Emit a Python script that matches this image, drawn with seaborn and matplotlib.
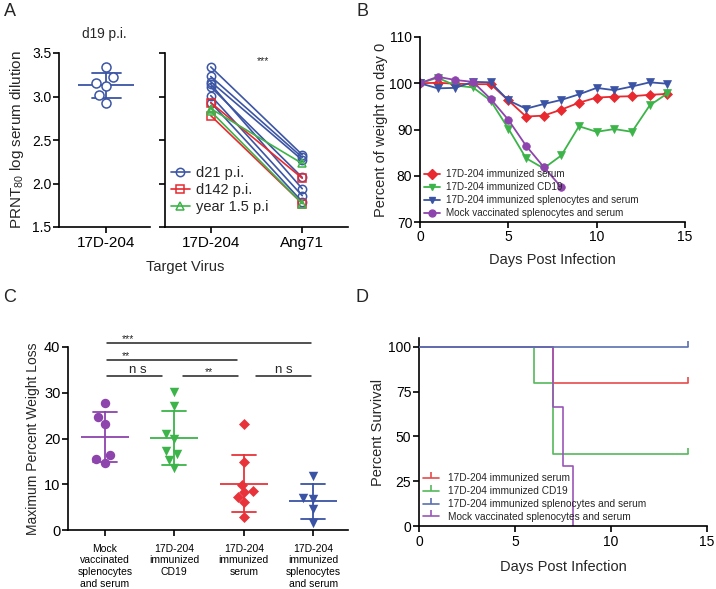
import numpy as np
import pandas as pd
import matplotlib
matplotlib.use('Agg')
import matplotlib.pyplot as plt
import seaborn as sns
from matplotlib.lines import Line2D

sns.set_theme(style='ticks')
plt.rcParams['font.family'] = ['Liberation Sans', 'DejaVu Sans']
plt.rcParams['mathtext.fontset'] = 'custom'
plt.rcParams['mathtext.rm'] = 'Liberation Sans'
plt.rcParams['axes.linewidth'] = 1.2
plt.rcParams['xtick.major.width'] = 1.2
plt.rcParams['ytick.major.width'] = 1.2
plt.rcParams['xtick.major.size'] = 4
plt.rcParams['ytick.major.size'] = 4
plt.rcParams['ytick.major.pad'] = 1.5
plt.rcParams['xtick.major.pad'] = 2.5
plt.rcParams['xtick.color'] = 'black'
plt.rcParams['ytick.color'] = 'black'
plt.rcParams['axes.edgecolor'] = 'black'
plt.rcParams['xtick.labelsize'] = 10
plt.rcParams['ytick.labelsize'] = 10

# ---------------- data ----------------
# Panel A (left): d19 p.i. PRNT80 titres
a_left_virus = '17D-204'
a_left_titers = [3.34, 3.22, 3.15, 3.12, 3.02, 2.93]

# Panel A (right): paired titres vs target virus
a_viruses = ['17D-204', 'Ang71']
a_groups = ['d21 p.i.', 'd142 p.i.', 'year 1.5 p.i']
d21_17d = [3.34, 3.23, 3.17, 3.14, 3.11, 3.01, 2.93]
d21_ang = [2.33, 2.30, 2.27, 1.94, 2.07, 1.86, 1.79]
d142_17d = [2.93, 2.78]
d142_ang = [2.06, 1.77]
y15_17d = [2.86, 2.83]
y15_ang = [2.23, 1.77]

# Panel B: weight curves
b_groups = ['17D-204 immunized serum', '17D-204 immunized CD19',
            '17D-204 immunized splenocytes and serum',
            'Mock vaccinated splenocytes and serum']
b_days = list(range(15))
b_serum = [100.0, 100.1, 99.9, 99.8, 99.8, 96.3, 92.8, 93.0, 94.3, 95.8, 96.9, 97.1, 97.2, 97.5, 97.7]
b_cd19 = [100.0, 101.2, 99.5, 99.1, 96.2, 90.2, 83.8, 81.6, 84.4, 90.7, 89.5, 90.1, 89.5, 95.2, 97.8]
b_spleno = [100.0, 98.9, 99.0, 100.3, 100.2, 96.3, 94.5, 95.5, 96.4, 97.6, 99.0, 98.5, 99.3, 100.2, 99.9]
b_mock_days = list(range(9))
b_mock = [100.0, 101.4, 100.7, 100.3, 96.6, 92.1, 86.5, 81.9, 77.5]

# Panel C: maximum percent weight loss
c_groups = ['Mock\nvaccinated\nsplenocytes\nand serum', '17D-204\nimmunized\nCD19',
            '17D-204\nimmunized\nserum', '17D-204\nimmunized\nsplenocytes\nand serum']
c_mock = [27.8, 24.6, 23.1, 16.4, 15.5, 14.7]
c_cd19 = [30.2, 27.1, 21.0, 19.8, 17.2, 16.6, 15.3, 13.5]
c_serum = [23.1, 14.8, 9.8, 8.5, 8.2, 7.3, 6.2, 2.9]
c_spleno = [11.9, 6.9, 6.8, 4.5, 1.5]

# Panel D: survival (step changes)
d_serum_days, d_serum = [0, 7, 14], [100, 80, 80]
d_cd19_days, d_cd19 = [0, 6, 7, 14], [100, 80, 40, 40]
d_spleno_days, d_spleno = [0, 14], [100, 100]
d_mock_days, d_mock = [0, 7, 7.5, 8], [100, 66.7, 33.3, 0]

# ---------------- colours ----------------
A_COLS = {'d21 p.i.': '#3c55a5', 'd142 p.i.': '#e8292f', 'year 1.5 p.i': '#3cb449'}
A_MARK = {'d21 p.i.': 'o', 'd142 p.i.': 's', 'year 1.5 p.i': '^'}
B_COLS = ['#e8292f', '#3cb449', '#3a53a4', '#8e44ad']
B_MARK = ['D', 'v', 'v', 'o']
C_COLS = ['#8e44ad', '#3cb449', '#e8333a', '#3a53a4']
C_MARK = ['o', 'v', 'D', 'v']
D_COLS = ['#e84a4a', '#55b95a', '#5a6fae', '#9b55b8']

W, H = 716, 589
fig = plt.figure(figsize=(W / 100, H / 100), dpi=100)


def ax_px(x0, y0, x1, y1):
    return fig.add_axes([x0 / W, 1 - y1 / H, (x1 - x0) / W, (y1 - y0) / H])


# ---------------- Panel A left ----------------
axA1 = ax_px(59, 53, 150, 227)
dfA1 = pd.DataFrame({'virus': a_left_virus, 'titer': a_left_titers})
sns.swarmplot(data=dfA1, x='virus', y='titer', ax=axA1, color=A_COLS['d21 p.i.'],
              size=6.5, marker='o')
for coll in axA1.collections:
    coll.set_facecolor('white')
    coll.set_edgecolor(A_COLS['d21 p.i.'])
    coll.set_linewidth(1.1)
sns.pointplot(data=dfA1, x='virus', y='titer', ax=axA1, errorbar='sd', capsize=0.32,
              color=A_COLS['d21 p.i.'], marker='_', markersize=41, markeredgewidth=1.3,
              linestyle='none', err_kws={'linewidth': 1.3})
axA1.set_xlim(-0.52, 0.48)
axA1.set_ylim(1.5, 3.5)
axA1.set_yticks([1.5, 2.0, 2.5, 3.0, 3.5])
axA1.tick_params(axis='x', labelsize=11)
axA1.set_xlabel('')
axA1.set_ylabel(r'PRNT$_{80}$ log serum dilution', fontsize=11, labelpad=4)
axA1.set_title('d19 p.i.', fontsize=9.8, pad=11)
sns.despine(ax=axA1)

# ---------------- Panel A right ----------------
axA2 = ax_px(165, 53, 348, 227)
rows = []
pid = 0
for g, v17, vang in [('d21 p.i.', d21_17d, d21_ang), ('d142 p.i.', d142_17d, d142_ang),
                     ('year 1.5 p.i', y15_17d, y15_ang)]:
    for a, b in zip(v17, vang):
        rows.append({'virus': a_viruses[0], 'titer': a, 'group': g, 'pair': pid})
        rows.append({'virus': a_viruses[1], 'titer': b, 'group': g, 'pair': pid})
        pid += 1
dfA2 = pd.DataFrame(rows)
sns.lineplot(data=dfA2, x='virus', y='titer', hue='group', style='group', units='pair',
             estimator=None, hue_order=a_groups, style_order=a_groups, palette=A_COLS,
             markers=A_MARK, dashes=False, legend=False, ax=axA2, linewidth=1.2, sort=False)
for ln in axA2.lines:
    c = ln.get_color()
    ln.set_markerfacecolor('none')
    ln.set_markeredgecolor(c)
    ln.set_markeredgewidth(1.1)
    ln.set_markersize(6)
axA2.set_xlim(-0.5, 1.5)
axA2.set_ylim(1.5, 3.5)
axA2.set_yticks([1.5, 2.0, 2.5, 3.0, 3.5])
axA2.set_yticklabels([])
axA2.tick_params(axis='x', labelsize=11)
axA2.set_xlabel('')
axA2.set_ylabel('')
axA2.text(0.57, 3.41, '***', fontsize=7.5, ha='center', va='center')
handles = [Line2D([0], [0], color=A_COLS[g], lw=1.2, marker=A_MARK[g], mfc='none',
                  mec=A_COLS[g], mew=1.1, ms=6) for g in a_groups]
axA2.legend(handles, a_groups, loc='lower left', bbox_to_anchor=(0.0, 0.04), frameon=False,
            fontsize=10.5, handlelength=1.3, handletextpad=0.4, labelspacing=0.22,
            borderaxespad=0.2, borderpad=0.2)
sns.despine(ax=axA2)
fig.text(185 / W, 1 - 267 / H, 'Target Virus', fontsize=10.5, ha='center', va='center')

# ---------------- Panel B ----------------
axB = ax_px(420, 37, 685, 222)
dfB = pd.concat([
    pd.DataFrame({'day': b_days, 'weight': b_serum, 'group': b_groups[0]}),
    pd.DataFrame({'day': b_days, 'weight': b_cd19, 'group': b_groups[1]}),
    pd.DataFrame({'day': b_days, 'weight': b_spleno, 'group': b_groups[2]}),
    pd.DataFrame({'day': b_mock_days, 'weight': b_mock, 'group': b_groups[3]}),
])
sns.lineplot(data=dfB, x='day', y='weight', hue='group', style='group', hue_order=b_groups,
             style_order=b_groups, palette=B_COLS, markers=dict(zip(b_groups, B_MARK)),
             dashes=False, legend=False, ax=axB, linewidth=1.3, markersize=5.5)
for ln in axB.lines:
    ln.set_markeredgecolor(ln.get_color())
    ln.set_markeredgewidth(0.5)
axB.set_xlim(0, 15)
axB.set_ylim(70, 110)
axB.set_xticks([0, 5, 10, 15])
axB.set_yticks([70, 80, 90, 100, 110])
axB.tick_params(axis='x', pad=1.5)
axB.set_xlabel('Days Post Infection', fontsize=10.5, labelpad=7)
axB.set_ylabel('Percent of weight on day 0', fontsize=10.5, labelpad=1)
handles = [Line2D([0], [0], color=c, lw=1.3, marker=m, ms=5, mec=c) for c, m in zip(B_COLS, B_MARK)]
axB.legend(handles, b_groups, loc='lower left', bbox_to_anchor=(0.0, 0.0), frameon=False,
           fontsize=7.1, handlelength=1.6, handletextpad=0.6, labelspacing=0.3,
           borderaxespad=0.2, borderpad=0.2)
sns.despine(ax=axB)

# ---------------- Panel C ----------------
axC = ax_px(68, 347, 348, 530)
dfC = pd.concat([pd.DataFrame({'group': g, 'loss': v}) for g, v in
                 zip(c_groups, [c_mock, c_cd19, c_serum, c_spleno])])
for g, col, mk in zip(c_groups, C_COLS, C_MARK):
    sub = dfC[dfC['group'] == g]
    sns.swarmplot(data=sub, x='group', y='loss', order=c_groups, color=col, marker=mk,
                  size=6.8 if mk != 'D' else 5.6, ax=axC, linewidth=0)
sns.pointplot(data=dfC, x='group', y='loss', hue='group', order=c_groups, hue_order=c_groups,
              palette=C_COLS, errorbar='sd', capsize=0.35, marker='_', markersize=34,
              markeredgewidth=1.3, linestyle='none', err_kws={'linewidth': 1.3},
              legend=False, ax=axC)
axC.set_xlim(-0.53, 3.5)
axC.set_ylim(0, 40)
axC.set_yticks([0, 10, 20, 30, 40])
axC.tick_params(axis='x', labelsize=7.5, pad=6)
axC.tick_params(axis='y', labelsize=10.5)
axC.set_xlabel('')
axC.set_ylabel('Maximum Percent Weight Loss', fontsize=10, labelpad=3)
sig = [(0.03, 2.97, 40.9, '***', 0.33, 7.5),
       (0.03, 1.90, 37.2, '**', 0.30, 7.5),
       (0.03, 0.82, 33.7, 'n s', 0.47, 9.5),
       (1.12, 1.91, 33.7, '**', 1.50, 7.5),
       (2.18, 2.97, 33.7, 'n s', 2.57, 9.5)]
for x0, x1, yv, txt, xt, fs in sig:
    axC.plot([x0, x1], [yv, yv], color='#222222', lw=1.1, clip_on=False)
    axC.text(xt, yv + (0.7 if txt == 'n s' else 0.2), txt, fontsize=fs, ha='center',
             va='baseline', clip_on=False)
sns.despine(ax=axC)

# ---------------- Panel D ----------------
axD = ax_px(419, 338, 707, 526)
dfD = pd.concat([
    pd.DataFrame({'day': d_serum_days, 'surv': d_serum, 'group': b_groups[0]}),
    pd.DataFrame({'day': d_cd19_days, 'surv': d_cd19, 'group': b_groups[1]}),
    pd.DataFrame({'day': d_spleno_days, 'surv': d_spleno, 'group': b_groups[2]}),
    pd.DataFrame({'day': d_mock_days, 'surv': d_mock, 'group': b_groups[3]}),
])
sns.lineplot(data=dfD, x='day', y='surv', hue='group', hue_order=b_groups, palette=D_COLS,
             drawstyle='steps-post', legend=False, ax=axD, linewidth=1.2, estimator=None)
for i, ln in enumerate(axD.lines):
    if i < 3:
        ln.set_marker(2)
        ln.set_markevery([-1])
        ln.set_markersize(4)
        ln.set_markeredgewidth(1.2)
        ln.set_markeredgecolor(ln.get_color())
# blue line drawn on top
axD.lines[2].set_zorder(5)
axD.set_xlim(0, 15)
axD.set_ylim(0, 105)
axD.set_xticks([0, 5, 10, 15])
axD.set_yticks([0, 25, 50, 75, 100])
axD.set_xlabel('Days Post Infection', fontsize=10.5, labelpad=8)
axD.set_ylabel('Percent Survival', fontsize=10.5, labelpad=2)
handles = [Line2D([0], [0], color=c, lw=1.2, marker=2, ms=4, mew=1.2, mec=c) for c in D_COLS]
axD.legend(handles, b_groups, loc='lower left', bbox_to_anchor=(0.0, 0.0), frameon=False,
           fontsize=7.3, handlelength=1.6, handletextpad=0.9, labelspacing=0.28,
           borderaxespad=0.2, borderpad=0.2)
sns.despine(ax=axD)

# ---------------- panel letters ----------------
for lbl, x, y in [('A', 10, 12), ('B', 362, 12), ('C', 10, 297), ('D', 362, 297)]:
    fig.text(x / W, 1 - y / H, lbl, fontsize=13, ha='center', va='center')

fig.savefig('out.png', dpi=100)
